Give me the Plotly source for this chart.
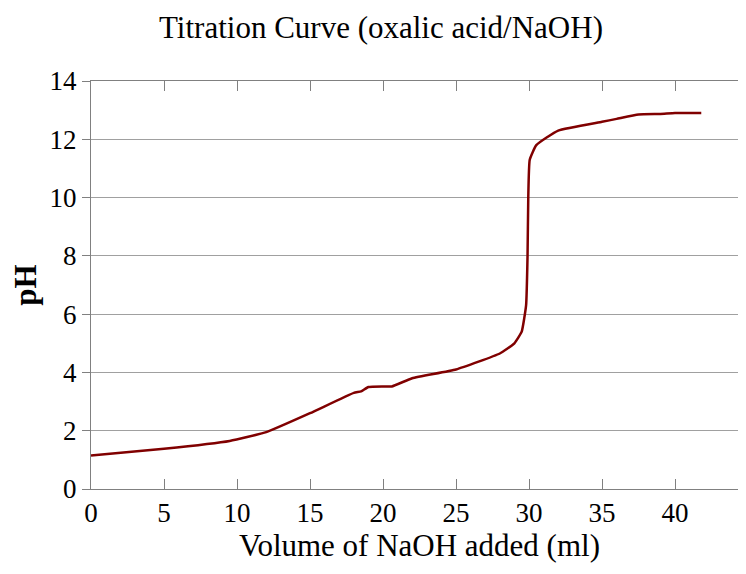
import plotly.graph_objects as go

volume = [0, 5, 9.5, 12, 15, 18, 18.5, 19, 20, 20.6, 22, 25, 28, 29, 29.5, 29.8, 29.9, 29.95, 30.05,
          30.5, 32, 35, 36, 37.5, 39, 40, 41.8]
ph = [1.15, 1.38, 1.65, 1.95, 2.6, 3.3, 3.35, 3.5, 3.52, 3.52, 3.8, 4.1, 4.65, 5.0, 5.4, 6.3, 8.0, 10.0, 11.3,
      11.8, 12.3, 12.6, 12.7, 12.85, 12.87, 12.9, 12.9]

fig = go.Figure(go.Scatter(x=volume, y=ph, mode="lines",
                           line=dict(color="#800000", width=2.5, shape="spline", smoothing=0.4)))

font = "Liberation Serif"
fig.update_layout(
    width=746, height=574,
    margin=dict(l=83, r=6, t=73, b=93, autoexpand=False),
    plot_bgcolor="white", paper_bgcolor="white",
    showlegend=False,
    font=dict(family=font, size=27, color="black"),
    title=dict(text="Titration Curve (oxalic acid/NaOH)", x=0.5, xanchor="center",
               y=0.985, yanchor="top", font=dict(size=31)),
)
fig.update_xaxes(range=[0, 45], dtick=5, showgrid=False, showline=True, linecolor="#808080",
                 mirror="ticks", ticks="inside", ticklen=10, tickcolor="#808080", automargin=False,
                 title=dict(text="Volume of NaOH added (ml)", font=dict(size=31), standoff=6))
fig.update_yaxes(range=[0, 14], dtick=2, showgrid=True, gridcolor="#a0a0a0", showline=True,
                 linecolor="#808080", mirror="ticks", ticks="outside", ticklen=8, tickcolor="#808080",
                 automargin=False, zeroline=False,
                 title=dict(text="<b>pH</b>", font=dict(size=31), standoff=10))

fig.write_html("out.html")
